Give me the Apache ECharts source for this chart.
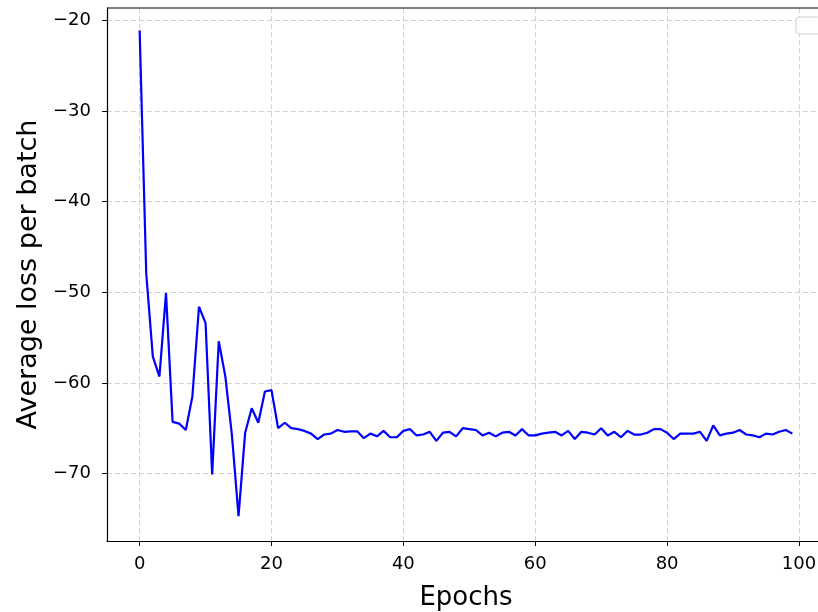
<!DOCTYPE html>
<html><head><meta charset="utf-8">
<script src="https://cdn.jsdelivr.net/npm/echarts@6/dist/echarts.min.js"></script>
<style>html,body{margin:0;padding:0;background:#fff}#c{width:818px;height:612px}</style>
</head><body><div id="c"></div>
<script>
const epochs = Array.from({length:100}, (_, i) => i);
const lossValues = [
-21.1,-47.9,-57.1,-59.3,-50.1,-64.3,-64.5,-65.2,-61.5,-51.6,
-53.4,-70.1,-55.4,-59.3,-65.8,-74.7,-65.5,-62.8,-64.4,-60.95,
-60.8,-65.0,-64.4,-65.0,-65.1,-65.3,-65.6,-66.2,-65.7,-65.6,
-65.2,-65.4,-65.35,-65.35,-66.1,-65.6,-65.9,-65.3,-66.0,-66.0,
-65.3,-65.1,-65.8,-65.7,-65.4,-66.4,-65.5,-65.4,-65.9,-65.0,
-65.1,-65.2,-65.8,-65.5,-65.9,-65.5,-65.4,-65.8,-65.1,-65.8,
-65.8,-65.6,-65.5,-65.4,-65.8,-65.3,-66.2,-65.4,-65.5,-65.7,
-65.0,-65.8,-65.4,-66.0,-65.3,-65.7,-65.7,-65.5,-65.1,-65.1,
-65.5,-66.2,-65.6,-65.6,-65.6,-65.4,-66.4,-64.7,-65.8,-65.6,
-65.5,-65.2,-65.7,-65.8,-66.0,-65.6,-65.7,-65.4,-65.2,-65.6
];
const xTicks = [0,20,40,60,80,100];
const yTicks = [-70,-60,-50,-40,-30,-20];
const xLabel = 'Epochs';
const yLabel = 'Average loss per batch';

const fmt = v => String(v).replace('-', '\u2212');
const font = 'DejaVu Sans';
const chart = echarts.init(document.getElementById('c'), null, {renderer:'canvas'});
const gridLine = {show:true, lineStyle:{color:'#c8c8c8', type:[5,3], width:0.8}};
chart.setOption({
  animation:false,
  grid:{left:107, top:8, width:718, height:533, containLabel:false, outerBoundsMode:'none'},
  xAxis:{type:'value', min:-4.95, max:103.95,
    name:xLabel, nameLocation:'middle', nameGap:44,
    nameTextStyle:{fontFamily:font, fontSize:26, color:'#000'},
    axisLine:{show:true, onZero:false, lineStyle:{color:'#000', width:1.2}},
    axisTick:{show:true, inside:false, length:5, customValues:xTicks, lineStyle:{color:'#000'}},
    axisLabel:{customValues:xTicks, formatter:fmt, fontFamily:font, fontSize:18, color:'#000', margin:14},
    splitLine:gridLine},
  yAxis:{type:'value', min:-77.45, max:-18.63,
    name:yLabel, nameLocation:'middle', nameGap:60,
    nameTextStyle:{fontFamily:font, fontSize:27, color:'#000'},
    axisLine:{show:true, onZero:false, lineStyle:{color:'#000', width:1.2}},
    axisTick:{show:true, inside:false, length:5, customValues:yTicks, lineStyle:{color:'#000'}},
    axisLabel:{customValues:yTicks, formatter:fmt, fontFamily:font, fontSize:18, color:'#000', margin:16},
    splitLine:gridLine},
  graphic:[
    {type:'line', shape:{x1:107,y1:8,x2:818,y2:8}, style:{stroke:'#000', lineWidth:1.2}, z:10},
    {type:'rect', shape:{x:796,y:17,width:30,height:17,r:3}, style:{fill:'rgba(255,255,255,0.85)', stroke:'#d0d0d0', lineWidth:1}, z:10}
  ],
  series:[{type:'line', data:epochs.map((e,i)=>[e, lossValues[i]]), showSymbol:false,
    lineStyle:{color:'#0000ff', width:2.2}, itemStyle:{color:'#0000ff'}}]
});
</script></body></html>
